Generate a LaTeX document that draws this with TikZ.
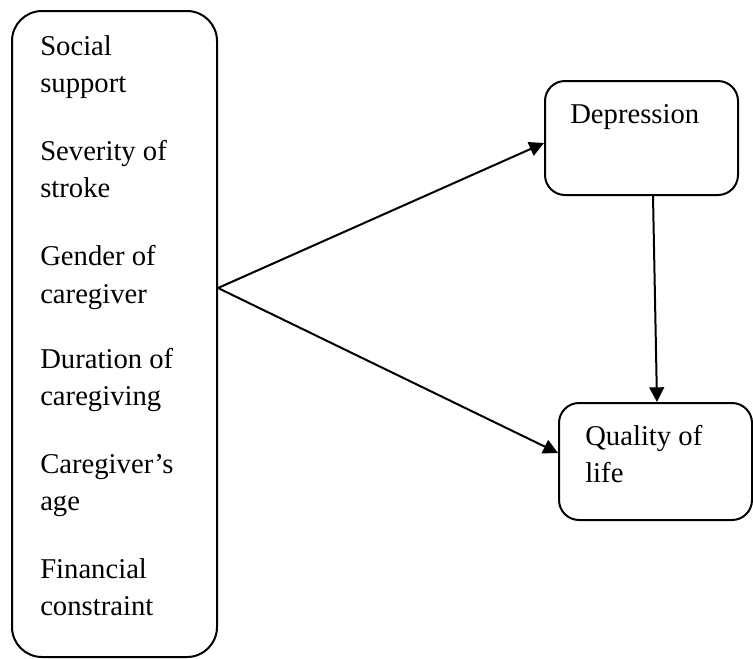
\documentclass[tikz,border=0pt]{standalone}
\usepackage{fontspec}
\setmainfont{Liberation Serif}
\usetikzlibrary{arrows.meta,calc}
\tikzset{
  box/.style={draw, line width=1.5pt, inner sep=0pt},
  lbl/.style={anchor=base west, inner sep=0pt, font=\fontsize{21.5}{25}\selectfont},
  arr/.style={line width=1.5pt, -{Triangle[length=11pt,width=11pt]}},
  link/.style={line width=1.5pt}
}
\begin{document}
\begin{tikzpicture}[x=0.75pt,y=-0.75pt]
\useasboundingbox (0,0) rectangle (753,658);
% boxes
\node[box, rounded corners=22.5pt, minimum width=153.75pt, minimum height=484.5pt] (L) at (114.5,334) {};
\node[box, rounded corners=15pt, minimum width=144.75pt, minimum height=85.5pt] (D) at (641.5,138) {};
\node[box, rounded corners=15pt, minimum width=144.75pt, minimum height=87.75pt] (Q) at (655.5,461.5) {};
% left texts
\node[lbl] (t1) at (40,55) {Social};
\node[lbl] (t2) at (40,92) {support};
\node[lbl] (t3) at (40,160) {Severity of};
\node[lbl] (t4) at (40,197) {stroke};
\node[lbl] (t5) at (40,265) {Gender of};
\node[lbl] (t6) at (40,303) {caregiver};
\node[lbl] (t7) at (40,368) {Duration of};
\node[lbl] (t8) at (40,405) {caregiving};
\node[lbl] (t9) at (40,473) {Caregiver’s};
\node[lbl] (t10) at (40,510) {age};
\node[lbl] (t11) at (40,578) {Financial};
\node[lbl] (t12) at (40,615) {constraint};
% right texts
\node[lbl] (dt) at (570,123) {Depression};
\node[lbl] (q1) at (585,445) {Quality of};
\node[lbl] (q2) at (585,482) {life};
% connectors
\coordinate (apex) at ($(L.north east)+(0,278)$);
\draw[arr] (apex) -- ($(D.west)+(0,5)$);
\draw[arr] (apex) -- ($(Q.west)+(0,-8.5)$);
\draw[arr] ($(D.south)+(11.5,0)$) -- ($(Q.north)+(1.5,0)$);
\end{tikzpicture}
\end{document}
